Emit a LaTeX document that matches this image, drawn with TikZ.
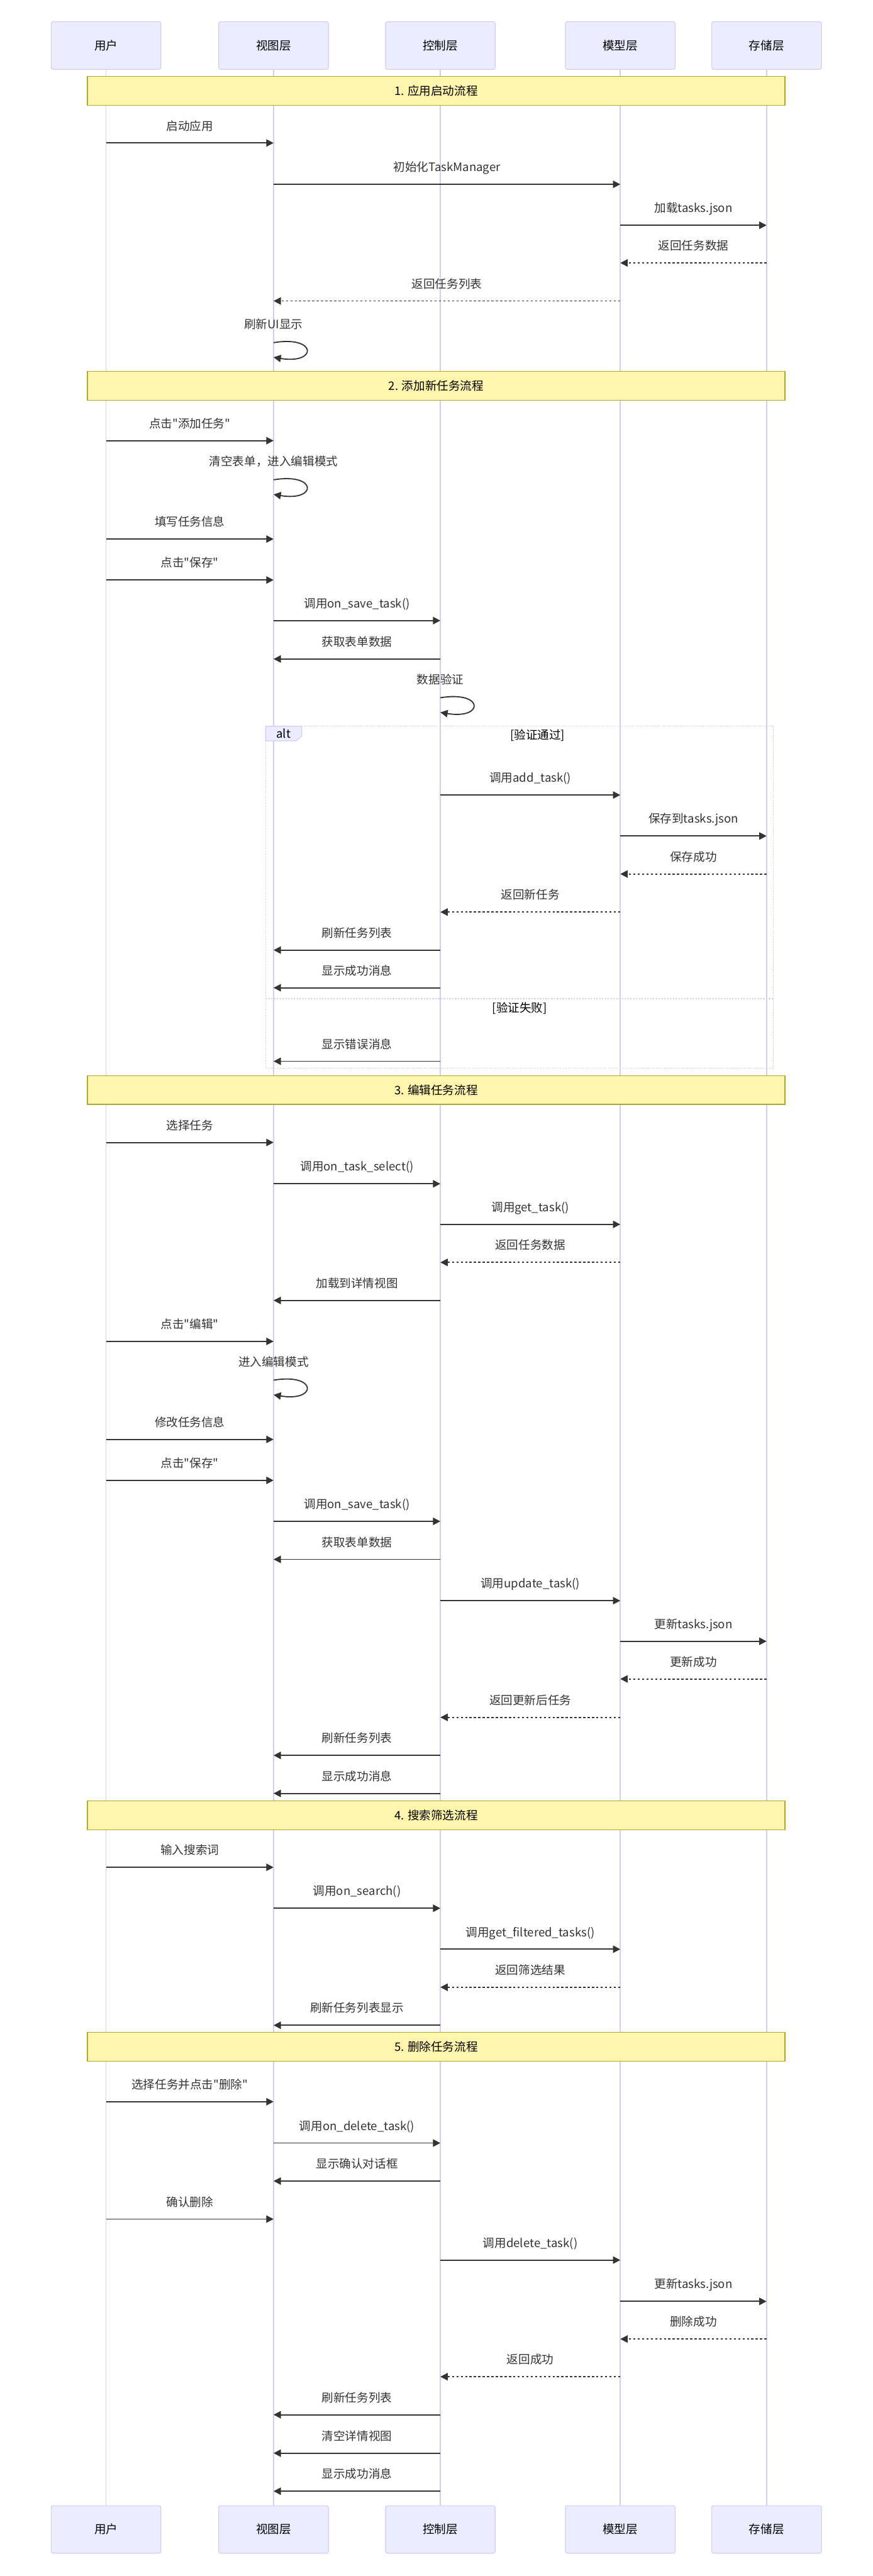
\documentclass[tikz,border=0pt]{standalone}
\usepackage{fontspec}
\setmainfont{Noto Sans CJK SC}[Ligatures=TeXOff]
\usetikzlibrary{arrows.meta,calc}

\begin{document}
\begin{tikzpicture}[
  >={Triangle[length=2mm,width=2mm]},
  font=\fontsize{9.1pt}{11pt}\selectfont,
  actor/.style={draw=lifeln, fill=actorbg, line width=.6pt, rounded corners=1.5pt,
    minimum width=3cm, minimum height=1.3cm, inner sep=0pt},
  lifeline/.style={draw=lifeln, line width=.75pt},
  msg/.style={->, draw=ink, line width=.9pt},
  reply/.style={msg, dash pattern=on 1.7pt off 1.7pt},
  msglabel/.style={text=ink, anchor=base},
  notebox/.style={draw=noteln, fill=notebg, line width=.6pt,
    minimum width=19.07cm, minimum height=.79cm, inner sep=0pt},
  altframe/.style={draw=lifeln, line width=.6pt, dash pattern=on 1.1pt off 1.1pt},
  guard/.style={text=black, anchor=base}
]

\definecolor{actorbg}{HTML}{ECECFF}
\definecolor{lifeln}{HTML}{D7CCF3}
\definecolor{ink}{HTML}{333333}
\definecolor{notebg}{HTML}{FFF5AD}
\definecolor{noteln}{HTML}{AAAA33}

\fill[white] (0,0) rectangle (23.86,-70.44);

% participants, top and bottom, with their lifelines
\foreach \n/\x/\txt in {user/2.90/用户, view/7.48/视图层, ctrl/12.04/控制层,
                         model/16.96/模型层, store/20.96/存储层}{
  \node[actor] (\n) at (\x,-1.245) {\txt};
  \node[actor] (\n-b) at (\x,-69.165) {\txt};
  \draw[lifeline] (\n) -- (\n-b);
}

% section notes
\foreach \top/\txt [count=\i] in {2.09/{1. 应用启动流程}, 10.15/{2. 添加新任务流程},
    29.41/{3. 编辑任务流程}, 49.25/{4. 搜索筛选流程}, 55.57/{5. 删除任务流程}}{
  \node[notebox] (note\i) at (11.925,-\top-.395) {\txt};
}

% alt block
\draw[altframe] (7.26,-19.86) rectangle (21.15,-29.21);
\draw[altframe] (7.26,-27.31) -- (21.15,-27.31);
\draw[draw=lifeln, fill=actorbg, line width=.6pt]
  (7.26,-19.86) -- (8.25,-19.86) -- (8.25,-20.12) -- (8.10,-20.26)
  -- (7.26,-20.26) -- cycle;
\node (altTag) at (7.75,-20.06) {alt};
\node[guard] (okGuard) at (14.70,-20.21) {[验证通过]};
\node[guard] (failGuard) at (14.21,-27.68) {[验证失败]};

% messages between lifelines
\foreach \y/\a/\b/\st/\txt in {
  3.91/user/view/msg/{启动应用},
  5.04/view/model/msg/{初始化TaskManager},
  6.16/model/store/msg/{加载tasks.json},
  7.19/store/model/reply/{返回任务数据},
  8.23/model/view/reply/{返回任务列表},
  12.05/user/view/msg/{点击"添加任务"},
  14.74/user/view/msg/{填写任务信息},
  15.86/user/view/msg/{点击"保存"},
  16.97/view/ctrl/msg/{调用on\_save\_task()},
  18.02/ctrl/view/msg/{获取表单数据},
  21.74/ctrl/model/msg/{调用add\_task()},
  22.86/model/store/msg/{保存到tasks.json},
  23.90/store/model/reply/{保存成功},
  24.94/model/ctrl/reply/{返回新任务},
  25.98/ctrl/view/msg/{刷新任务列表},
  27.01/ctrl/view/msg/{显示成功消息},
  29.02/ctrl/view/msg/{显示错误消息},
  31.24/user/view/msg/{选择任务},
  32.37/view/ctrl/msg/{调用on\_task\_select()},
  33.48/ctrl/model/msg/{调用get\_task()},
  34.52/model/ctrl/reply/{返回任务数据},
  35.56/ctrl/view/msg/{加载到详情视图},
  36.68/user/view/msg/{点击"编辑"},
  39.36/user/view/msg/{修改任务信息},
  40.48/user/view/msg/{点击"保存"},
  41.60/view/ctrl/msg/{调用on\_save\_task()},
  42.64/ctrl/view/msg/{获取表单数据},
  43.77/ctrl/model/msg/{调用update\_task()},
  44.88/model/store/msg/{更新tasks.json},
  45.91/store/model/reply/{更新成功},
  46.96/model/ctrl/reply/{返回更新后任务},
  48.00/ctrl/view/msg/{刷新任务列表},
  49.04/ctrl/view/msg/{显示成功消息},
  51.06/user/view/msg/{输入搜索词},
  52.18/view/ctrl/msg/{调用on\_search()},
  53.30/ctrl/model/msg/{调用get\_filtered\_tasks()},
  54.34/model/ctrl/reply/{返回筛选结果},
  55.38/ctrl/view/msg/{刷新任务列表显示},
  57.47/user/view/msg/{选择任务并点击"删除"},
  58.60/view/ctrl/msg/{调用on\_delete\_task()},
  59.64/ctrl/view/msg/{显示确认对话框},
  60.68/user/view/msg/{确认删除},
  61.80/ctrl/model/msg/{调用delete\_task()},
  62.93/model/store/msg/{更新tasks.json},
  63.96/store/model/reply/{删除成功},
  64.99/model/ctrl/reply/{返回成功},
  66.03/ctrl/view/msg/{刷新任务列表},
  67.08/ctrl/view/msg/{清空详情视图},
  68.12/ctrl/view/msg/{显示成功消息}}{
  \draw[\st] (\a |- 0,-\y) -- (\b |- 0,-\y)
    node[msglabel, midway, yshift=.35cm] {\txt};
}

% self calls
\foreach \y/\a/\txt in {9.37/view/{刷新UI显示}, 13.12/view/{清空表单，进入编辑模式},
    19.08/ctrl/{数据验证}, 37.74/view/{进入编辑模式}}{
  \node[msglabel] at (\a |- 0,{-\y+.38}) {\txt};
  \draw[msg] (\a |- 0,-\y) .. controls +(1.2,.2) and +(1.2,-.2) .. (\a |- 0,{-\y-.4});
}

\end{tikzpicture}
\end{document}
